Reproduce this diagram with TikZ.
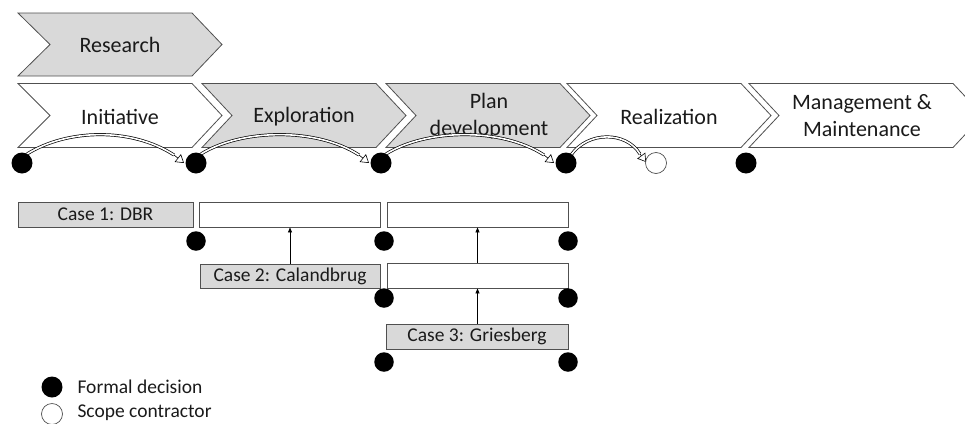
\documentclass[tikz,border=0pt]{standalone}
\usepackage{fontspec}
\setmainfont{Carlito}
\usetikzlibrary{arrows.meta}
\definecolor{boxgray}{HTML}{D9D9D9}
\definecolor{edge}{HTML}{505050}
\definecolor{txt}{HTML}{1A1A1A}
\newcommand{\phasearc}[2]{%
  \draw[arcline] (#1+5,154) .. controls (#1+45,129) and (#2-65,127) .. (#2-22,155);
  \draw[arctip] (#2-22,155) -- (#2-12,163);
}
\begin{document}
\begin{tikzpicture}[x=1pt,y=-1pt,
  chev/.style={draw=edge,line width=0.8pt,line join=miter},
  big/.style={font=\fontsize{22}{27}\selectfont, text=txt, align=center},
  small/.style={font=\fontsize{19.5}{23}\selectfont, text=txt},
  casebox/.style={draw=edge, line width=0.9pt, fill=boxgray, minimum height=25pt, inner sep=0pt, small},
  emptybox/.style={draw=edge, line width=0.9pt, fill=white, minimum height=25pt, inner sep=0pt},
  fdot/.style={circle, fill=black, inner sep=0pt, minimum size=21pt},
  sdot/.style={circle, fill=black, inner sep=0pt, minimum size=19.5pt},
  odot/.style={circle, draw=edge, fill=white, line width=0.7pt, inner sep=0pt, minimum size=21pt},
  arcline/.style={line width=0.7pt, double=white, double distance=1.6pt},
  arctip/.style={line width=0.6pt, -{Triangle[length=8pt,width=10pt,fill=white,line width=0.6pt]}},
  uparrow/.style={line width=0.7pt, -{Triangle[length=5pt,width=4pt]}}
]
\useasboundingbox (0,0) rectangle (965,423);
\clip (0,0) rectangle (965,423);

% chevrons
\draw[chev, fill=boxgray] (18,13) -- (192,13) -- (222,44.5) -- (192,76) -- (18,76) -- (50,44.5) -- cycle;
\draw[chev, fill=white] (18,83.5) -- (192,83.5) -- (222,115.5) -- (192,147.5) -- (18,147.5) -- (50,115.5) -- cycle;
\draw[chev, fill=boxgray] (202,83.5) -- (376,83.5) -- (406,115.5) -- (376,147.5) -- (202,147.5) -- (232,115.5) -- cycle;
\draw[chev, fill=boxgray] (386,83.5) -- (560,83.5) -- (590,115.5) -- (560,147.5) -- (386,147.5) -- (416,115.5) -- cycle;
\draw[chev, fill=white] (567,83.5) -- (741,83.5) -- (771,115.5) -- (741,147.5) -- (567,147.5) -- (597,115.5) -- cycle;
\draw[chev, fill=white] (749,83.5) -- (953,83.5) -- (983,115.5) -- (953,147.5) -- (749,147.5) -- (779,115.5) -- cycle;

\node[big] (research) at (120,45) {Research};
\node[big] (initiative) at (120,117) {Initiative};
\node[big] (exploration) at (304,117) {Exploration};
\node[big] (plan) at (489,116) {Plan\\development};
\node[big] (realization) at (669,117) {Realization};
\node[big] (mm) at (862,116) {Management \&\\Maintenance};

% arcs
\phasearc{22}{196}
\phasearc{196}{381}
\phasearc{381}{566}
\draw[arcline] (571,155) .. controls (588,131) and (626,131) .. (640,154);
\draw[arctip] (640,154) -- (646,162);

% top-row decisions
\node[fdot] (d0) at (22,163) {};
\node[fdot] (d1) at (196,163) {};
\node[fdot] (d2) at (381,163) {};
\node[fdot] (d3) at (566,163) {};
\node[odot] (o1) at (656,163) {};
\node[fdot] (d4) at (746,163) {};

% case boxes
\node[casebox, minimum width=175pt] (case1) at (105.5,214.5) {Case 1: DBR};
\node[emptybox, minimum width=181pt] (e1) at (289.5,214.5) {};
\node[emptybox, minimum width=181pt] (e2) at (477.5,214.5) {};
\node[casebox, minimum width=180pt, minimum height=24pt] (case2) at (290,276) {Case 2: Calandbrug};
\node[emptybox, minimum width=181pt] (e3) at (477.5,275.5) {};
\node[casebox, minimum width=182pt] (case3) at (477,336.5) {Case 3: Griesberg};

\draw[uparrow] (case2.north) -- (case2.north |- e1.south);
\draw[uparrow] (e3.north) -- (e3.north |- e2.south);
\draw[uparrow] (case3.north -| e3.south) -- (e3.south);

% case decisions
\node[sdot] (c1) at (196,241) {};
\node[sdot] (c2) at (384,241) {};
\node[sdot] (c3) at (568,241) {};
\node[sdot] (c4) at (384,298) {};
\node[sdot] (c5) at (568,298) {};
\node[sdot] (c6) at (384,362) {};
\node[sdot] (c7) at (568,362) {};

% legend
\node[fdot] (lf) at (52,387) {};
\node[small, anchor=west] (lftext) at (74,387) {Formal decision};
\node[odot] (lo) at (52,414) {};
\node[small, anchor=west] (lotext) at (74,412.5) {Scope contractor};
\end{tikzpicture}
\end{document}
